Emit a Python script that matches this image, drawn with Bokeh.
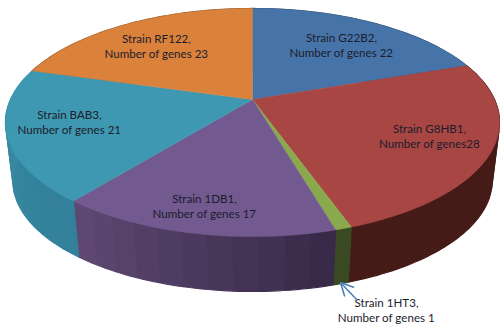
import numpy as np
from bokeh.embed import file_html
from bokeh.resources import INLINE
from bokeh.plotting import figure
from bokeh.models import Arrow, OpenHead
from bokeh.core.properties import value

# ---- data ----
strains = ["G22B2", "G8HB1", "1HT3", "1DB1", "BAB3", "RF122"]
genes = [22, 28, 1, 17, 21, 23]
label_first = ["Strain G22B2,", "Strain G8HB1,", "Strain 1HT3,", "Strain 1DB1,", "Strain BAB3,", "Strain RF122,"]
label_second = ["Number of genes 22", "Number of genes28", "Number of genes 1",
                "Number of genes 17", "Number of genes 21", "Number of genes 23"]

# ---- styling and placement ----
top_colors = ["#4674a8", "#a84644", "#8aa84c", "#725a90", "#3f98b1", "#da823b"]
wall_left = ["#2c4668", "#451b18", "#3a4a22", "#5e4872", "#3b8da4", "#8a5226"]
wall_right = ["#2c4668", "#451b18", "#3a4a22", "#392a49", "#32809a", "#8a5226"]
label_x = [341, 429, 386, 204, 69, 156]
label_y = [37, 128, 302, 198, 114, 38]

CX, CY, A, B, K = 252.0, 99.0, 242.0, 109.4, 0.2018
S, CY_LOW = 0.97, 158.0


def project(theta, low=False):
    u, v = np.sin(theta), np.cos(theta)
    d = 1 + K * v
    x, y = A * u / d, -B * v / d
    if low:
        return CX + S * x, CY_LOW + S * y
    return CX + x, CY + y


def mix(c1, c2, t):
    a = [int(c1[i:i + 2], 16) for i in (1, 3, 5)]
    b = [int(c2[i:i + 2], 16) for i in (1, 3, 5)]
    return "#%02x%02x%02x" % tuple(int(round(p + (q - p) * t)) for p, q in zip(a, b))


p = figure(width=500, height=329, x_range=(0, 500), y_range=(329, 0),
           output_backend="svg", toolbar_location=None, min_border=0,
           outline_line_color=None, background_fill_color="white")
p.axis.visible = False
p.grid.visible = False

edges = np.cumsum([0] + genes) / sum(genes) * 2 * np.pi

# side walls, in narrow bands
wx, wy, wc = [], [], []
for i in range(len(genes)):
    n = max(2, int(round((edges[i + 1] - edges[i]) / np.radians(5))))
    ts = np.linspace(edges[i], edges[i + 1], n + 1)
    for j in range(n):
        a, b = ts[j], ts[j + 1]
        sub = np.linspace(a, b, 5)
        xt, yt = project(sub)
        xb, yb = project(sub[::-1], low=True)
        wx.append(np.r_[xt, xb].tolist())
        wy.append(np.r_[yt, yb].tolist())
        wc.append(mix(wall_left[i], wall_right[i], (n - 1 - j) / max(1, n - 1)))
p.patches(wx, wy, fill_color=wc, line_color=wc, line_width=1.2)

# top faces
fx, fy = [], []
for i in range(len(genes)):
    ts = np.linspace(edges[i], edges[i + 1], 80)
    x, y = project(ts)
    fx.append(np.r_[CX, x].tolist())
    fy.append(np.r_[CY, y].tolist())
p.patches(fx, fy, fill_color=top_colors, line_color=top_colors, line_width=0.5)

# leader for the small slice
p.add_layout(Arrow(end=OpenHead(size=13, line_color="#4a7fb8", line_width=1.6),
                   x_start=357, y_start=300, x_end=340, y_end=282,
                   line_color="#4a7fb8", line_width=1.5))

font = value("Lato")
for lines, dy in ((label_first, 0), (label_second, 15)):
    p.text(label_x, [y + dy for y in label_y], text=lines, text_font=font,
           text_font_size="11.6px", text_color="#1c1c2c",
           text_align="center", text_baseline="middle")

open("out.html", "w").write(file_html(p, INLINE))
